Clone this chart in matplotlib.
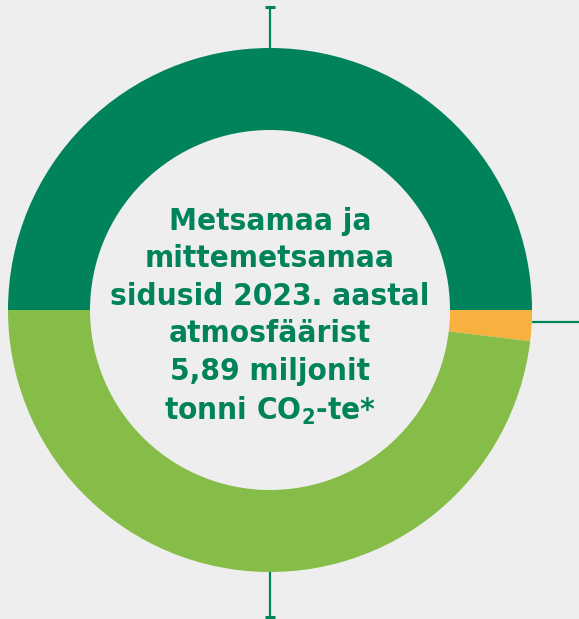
import matplotlib
matplotlib.use("Agg")
import matplotlib.pyplot as plt

# shares of the ring (percent), clockwise from 9 o'clock
shares = [50.0, 1.9, 48.1]
colors = ["#00835A", "#F8B03E", "#86BD48"]
title_lines = ["Metsamaa ja", "mittemetsamaa", "sidusid 2023. aastal",
               "atmosfäärist", "5,89 miljonit", "tonni CO$_{\\mathbf{2}}$-te*"]

bg = "#EDEEED"
green = "#00835A"
plt.rcParams["font.family"] = ["DejaVu Sans"]
plt.rcParams["font.stretch"] = "condensed"
plt.rcParams["mathtext.fontset"] = "dejavusans"

fig = plt.figure(figsize=(5.79, 6.19), dpi=100)
fig.patch.set_facecolor(bg)
ax = fig.add_axes([0, 0, 1, 1])
ax.set_facecolor(bg)

cx, cy, r = 270, 309, 262
ax.pie(shares, colors=colors, startangle=180, counterclock=False,
       center=(cx, cy), radius=r, frame=True,
       wedgeprops=dict(width=r - 180, linewidth=0))
ax.set_xlim(0, 579)
ax.set_ylim(0, 619)
ax.set_aspect("equal")
ax.axis("off")

# guide lines with caps
ax.plot([cx, cx], [cy + r, 612], color=green, lw=1.6, solid_capstyle="butt")
ax.plot([cx - 5, cx + 5], [612, 612], color=green, lw=2.2, solid_capstyle="butt")
ax.plot([cx, cx], [cy - r, 2], color=green, lw=1.6, solid_capstyle="butt")
ax.plot([cx - 5, cx + 5], [2, 2], color=green, lw=2.2, solid_capstyle="butt")
ax.plot([cx + r, 579], [297, 297], color=green, lw=1.6, solid_capstyle="butt")

ax.text(cx, cy - 7, "\n".join(title_lines), ha="center", va="center",
        color=green, fontsize=22.5, fontweight="bold", linespacing=1.37,
        fontstretch="condensed")

fig.savefig("out.png", dpi=100, facecolor=bg)
